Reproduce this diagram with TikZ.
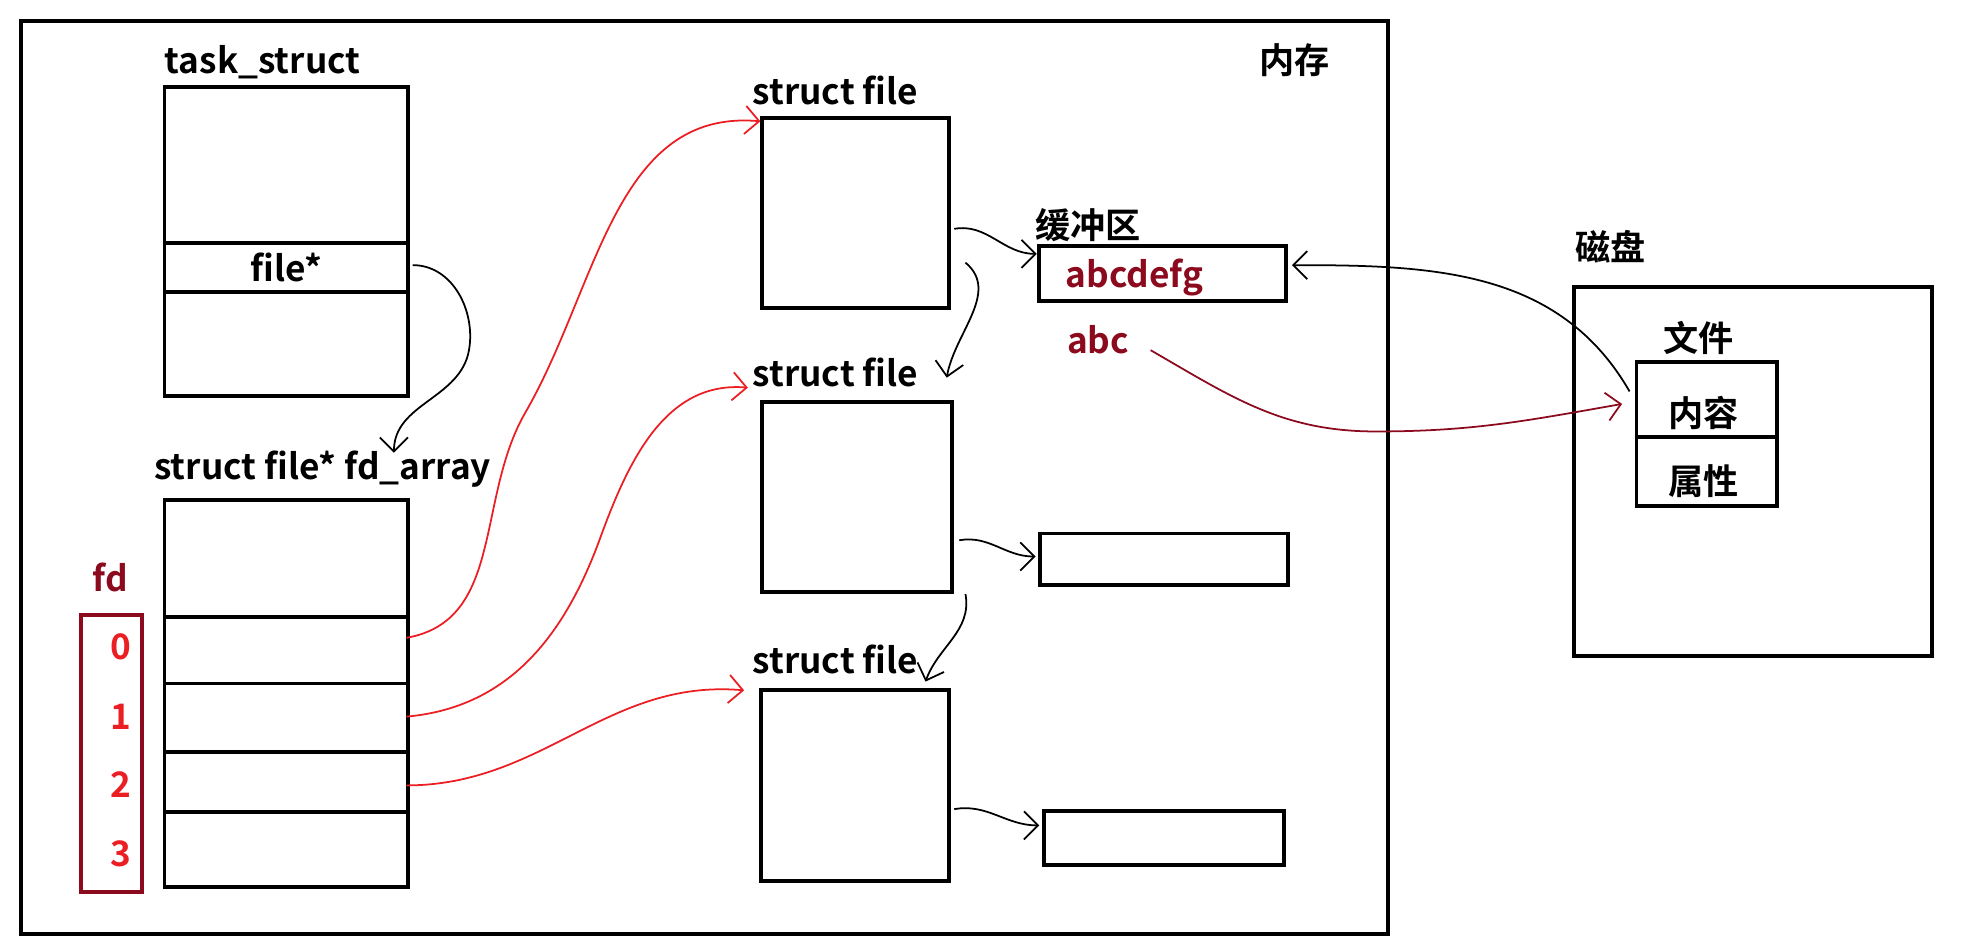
\documentclass[tikz,border=0pt]{standalone}
\usepackage{fontspec}
\setmainfont{Noto Sans CJK SC}[BoldFont={Noto Sans CJK SC Bold}]
\usetikzlibrary{arrows.meta}
\definecolor{darkred}{RGB}{140,10,30}
\definecolor{penred}{RGB}{235,30,35}
\newlength{\pxu}
\setlength{\pxu}{0.0125cm}
\tikzset{
  box/.style={draw=black, line width=1.1pt, anchor=north west, inner sep=0pt},
  lbl/.style={font=\bfseries\fontsize{10}{12}\selectfont, inner sep=0pt},
  link/.style={-{Straight Barb[length=4pt]}, line width=0.5pt},
}
% box from top-left corner with size in pixels
\newcommand{\pbox}[5]{\node[box, minimum width=#4\pxu, minimum height=#5\pxu] (#1) at (#2,#3) {};}
\begin{document}
\begin{tikzpicture}[x=0.0125cm, y=-0.0125cm]
\useasboundingbox (0,0) rectangle (1568,759);
% memory
\pbox{mem}{15}{15}{1093}{730}
\node[lbl] (memlbl) at (1035,48) {内存};
% task_struct
\node[lbl] (tlbl) at (210,50) {task\_struct};
\pbox{task}{130}{68}{195}{247}
\pbox{fptr}{130}{193}{195}{39}
\node[lbl] at (fptr) {file*};
% fd_array
\node[lbl] (alabel) at (258,375) {struct file* fd\_array};
\pbox{arr}{130}{398}{195}{310}
\pbox{fd0}{130}{492}{195}{53}
\pbox{fd1}{130}{545}{195}{55}
\pbox{fd2}{130}{600}{195}{48}
\node[draw=darkred, line width=1.1pt, anchor=north west, minimum width=49\pxu, minimum height=222\pxu] (fdbox) at (63,490) {};
\node[lbl, text=darkred] (fdlbl) at (88,462) {fd};
\foreach \n/\y in {0/517,1/573,2/627,3/683}
  \node[lbl, text=penred] (d\n) at (97,\y) {\n};
% struct file boxes
\pbox{sfa}{608}{93}{149}{152}
\node[lbl] (sfalbl) at (668,72) {struct file};
\pbox{sfb}{608}{320}{152}{152}
\node[lbl] (sfblbl) at (668,298) {struct file};
\pbox{sfc}{607}{550}{150}{153}
\node[lbl] (sfclbl) at (668,527) {struct file};
% buffers
\pbox{bufa}{829}{195}{198}{44}
\node[lbl] (buflbl) at (870,180) {缓冲区};
\node[lbl, text=darkred] (bufatxt) at (907,222) {abcdefg};
\pbox{bufb}{830}{425}{198}{41}
\pbox{bufc}{833}{647}{192}{43}
\node[lbl, text=darkred] (abc) at (878,272) {abc};
% disk
\node[lbl] (disklbl) at (1288,197) {磁盘};
\pbox{disk}{1257}{228}{286}{295}
\node[lbl] (flbl) at (1358,270) {文件};
\pbox{file}{1307}{288}{112}{115}
\pbox{cont}{1307}{288}{112}{60}
\node[lbl] at (1362,330) {内容};
\node[lbl] at (1362,385) {属性};
% connector ends
\coordinate (fpe) at (330,212);
\coordinate (arrin) at (315,362);
\coordinate (sfain) at (608,97);
\coordinate (sfbin) at (598,310);
\coordinate (sfcin) at (595,552);
\coordinate (fd0o) at (325,510);
\coordinate (fd1o) at (325,573);
\coordinate (fd2o) at (325,628);
\coordinate (sfao) at (763,183);
\coordinate (bufain) at (829,203);
\coordinate (sfad) at (772,210);
\coordinate (sfbtop) at (757,302);
\coordinate (sfbo) at (767,432);
\coordinate (bufbin) at (828,445);
\coordinate (sfbd) at (772,475);
\coordinate (sfctop) at (740,545);
\coordinate (sfco) at (763,647);
\coordinate (bufcin) at (831,660);
\coordinate (conto) at (1303,313);
\coordinate (bufaout) at (1033,212);
\coordinate (abco) at (920,280);
\coordinate (contin) at (1297,323);
% arrows
\draw[link] (fpe) to[out=0, in=80] (375,280) to[out=-100, in=90] (arrin);
\draw[link, penred] (fd0o) to[out=10, in=-120] (420,330) to[out=60, in=175] (sfain);
\draw[link, penred] (fd1o) to[out=5, in=-110] (480,430) to[out=70, in=175] (sfbin);
\draw[link, penred] (fd2o) to[out=0, in=175] (sfcin);
\draw[link] (sfao) to[out=10, in=180] (bufain);
\draw[link] (sfad) to[out=-40, in=80] (sfbtop);
\draw[link] (sfbo) to[out=10, in=180] (bufbin);
\draw[link] (sfbd) to[out=-80, in=70] (sfctop);
\draw[link] (sfco) to[out=10, in=180] (bufcin);
\draw[link] (conto) to[out=120, in=0] (bufaout);
\draw[link, darkred] (abco) to[out=-30, in=180] (1100,345) to[out=0, in=190] (contin);
\end{tikzpicture}
\end{document}
